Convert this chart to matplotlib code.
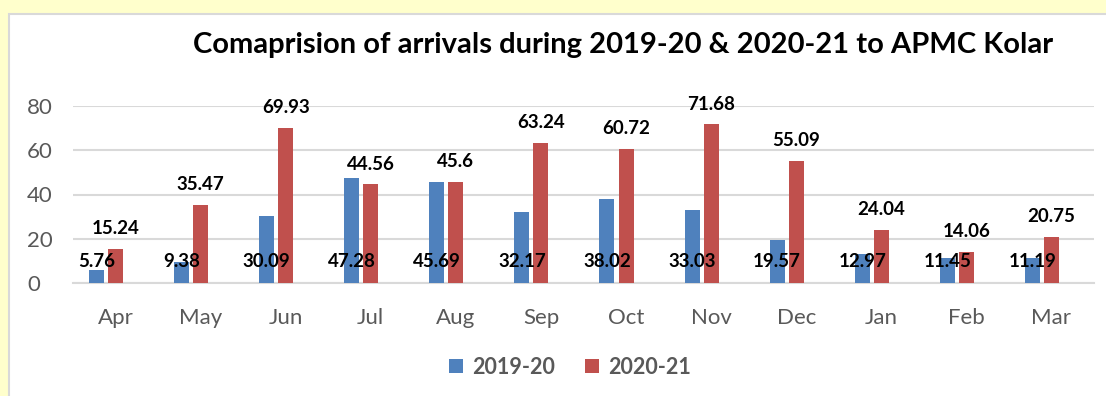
import matplotlib
matplotlib.use("Agg")
import matplotlib.pyplot as plt
from matplotlib.patches import Rectangle
import numpy as np

months = ["Apr", "May", "Jun", "Jul", "Aug", "Sep", "Oct", "Nov", "Dec", "Jan", "Feb", "Mar"]
arr_2019_20 = [5.76, 9.38, 30.09, 47.28, 45.69, 32.17, 38.02, 33.03, 19.57, 12.97, 11.45, 11.19]
arr_2020_21 = [15.24, 35.47, 69.93, 44.56, 45.6, 63.24, 60.72, 71.68, 55.09, 24.04, 14.06, 20.75]
labels_2019_20 = ["5.76", "9.38", "30.09", "47.28", "45.69", "32.17", "38.02", "33.03", "19.57", "12.97", "11.45", "11.19"]
labels_2020_21 = ["15.24", "35.47", "69.93", "44.56", "45.6", "63.24", "60.72", "71.68", "55.09", "24.04", "14.06", "20.75"]
yticks = [0, 20, 40, 60, 80]

W, H = 1106, 396
fig = plt.figure(figsize=(W / 100, H / 100), dpi=100)
fig.patch.set_facecolor("#FFFFCC")
panel = Rectangle((9 / W, -0.01), 1.02, (H - 14) / H + 0.01, transform=fig.transFigure,
                  facecolor="white", edgecolor="#D9D9D9", linewidth=1.5, zorder=-10)
fig.patches.append(panel)

ax = fig.add_axes([73 / W, (H - 283) / H, (1094 - 73) / W, (283 - 106) / H])
ax.set_zorder(5)
ax.set_facecolor("none")
x = np.arange(len(months))
bw = 0.176
blue = "#4F81BD"
red = "#C0504D"
ax.bar(x - 0.224, arr_2019_20, bw, color=blue, label="2019-20", zorder=3)
ax.bar(x, arr_2020_21, bw, color=red, label="2020-21", zorder=3)

for i in range(len(months)):
    ax.text(x[i] - 0.224, 9.5, labels_2019_20[i], ha="center", va="center",
            fontsize=13.5, fontweight="bold", family="Lato", color="black", zorder=5)
    ax.annotate(labels_2020_21[i], (x[i], arr_2020_21[i]), xytext=(0, 8.5), textcoords="offset points",
                ha="center", va="bottom", fontsize=13.5, fontweight="bold", family="Lato",
                color="black", zorder=5, annotation_clip=False)

ax.set_xlim(-0.5, len(months) - 0.5)
ax.set_ylim(0, 80)
ax.set_yticks(yticks)
ax.set_xticks(x)
ax.set_xticklabels(months)
for lab in ax.get_xticklabels() + ax.get_yticklabels():
    lab.set_family("Lato")
    lab.set_fontsize(16)
    lab.set_color("#595959")
ax.tick_params(axis="both", length=0)
ax.tick_params(axis="x", pad=18)
ax.tick_params(axis="y", pad=33)
for lab in ax.get_yticklabels():
    lab.set_horizontalalignment("left")
ax.grid(axis="y", color="#D9D9D9", linewidth=1.5, zorder=0)
for s in ["top", "right", "left"]:
    ax.spines[s].set_visible(False)
ax.spines["bottom"].set_color("#D9D9D9")
ax.spines["bottom"].set_linewidth(1.5)

fig.text(623 / W, 1 - 45 / H, "Comaprision of arrivals during 2019-20 & 2020-21 to APMC Kolar",
         ha="center", va="center", fontsize=21, fontweight="bold", family="Lato", color="black", zorder=6)

leg = fig.legend(loc="center", bbox_to_anchor=(570 / W, 1 - 367 / H), ncol=2, frameon=False,
                 prop={"family": "Lato", "weight": "bold", "size": 15.5},
                 handlelength=0.65, handleheight=0.65, handletextpad=0.4, columnspacing=1.4)
leg.set_zorder(6)
for t in leg.get_texts():
    t.set_color("#595959")

fig.savefig("out.png", dpi=100, facecolor=fig.get_facecolor())
